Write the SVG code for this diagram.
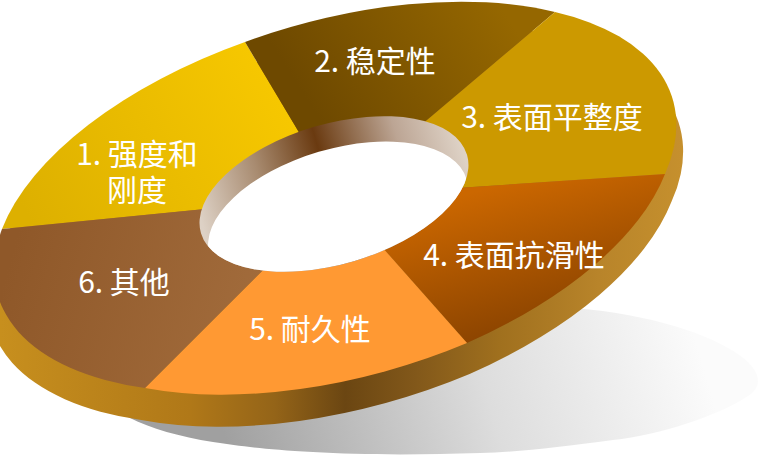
<svg xmlns="http://www.w3.org/2000/svg" xmlns:xlink="http://www.w3.org/1999/xlink" width="760" height="459" viewBox="0 0 760 459">
  <defs>
    <style>
      .lbl { font-family: "Noto Sans CJK SC", "Noto Sans", sans-serif; font-size: 30px; fill: #FFFFFF; text-anchor: middle; }
    </style>
    <path id="outer" d="M2,229 A347.5,175.5 -16.45 0 1 245,42 A347.5,175.5 -16.45 0 1 555,12 A347.5,175.5 -16.45 0 1 665,174 A347.5,175.5 -16.45 0 1 467,343 A347.5,175.5 -16.45 0 1 145,388 A347.5,175.5 -16.45 0 1 2,229 Z"/>
    <ellipse id="rim" cx="334" cy="194" rx="138.7" ry="70" transform="rotate(-16.45 334 194)"/>
    <clipPath id="rimClip"><use xlink:href="#rim"/></clipPath>
    <linearGradient id="gShadow" gradientUnits="userSpaceOnUse" x1="690" y1="320" x2="230" y2="455">
      <stop offset="0" stop-color="#FBFBFB"/>
      <stop offset="0.45" stop-color="#DDDDDD"/>
      <stop offset="1" stop-color="#A0A0A0"/>
    </linearGradient>
    <linearGradient id="gBand" gradientUnits="userSpaceOnUse" x1="0" y1="0" x2="690" y2="0">
      <stop offset="0" stop-color="#C8901E"/>
      <stop offset="0.28" stop-color="#B07818"/>
      <stop offset="0.4" stop-color="#946418"/>
      <stop offset="0.5" stop-color="#6B4612"/>
      <stop offset="0.6" stop-color="#82581A"/>
      <stop offset="0.72" stop-color="#A0701E"/>
      <stop offset="0.86" stop-color="#B8842A"/>
      <stop offset="1" stop-color="#C8922E"/>
    </linearGradient>
    <linearGradient id="g1" gradientUnits="userSpaceOnUse" x1="30" y1="220" x2="280" y2="80">
      <stop offset="0" stop-color="#DDB000"/>
      <stop offset="1" stop-color="#F7C800"/>
    </linearGradient>
    <linearGradient id="g2" gradientUnits="userSpaceOnUse" x1="320" y1="120" x2="500" y2="5">
      <stop offset="0" stop-color="#6E4900"/>
      <stop offset="1" stop-color="#956700"/>
    </linearGradient>
    <linearGradient id="g4" gradientUnits="userSpaceOnUse" x1="500" y1="185" x2="540" y2="330">
      <stop offset="0" stop-color="#CB6700"/>
      <stop offset="1" stop-color="#8A4300"/>
    </linearGradient>
    <linearGradient id="g6" gradientUnits="userSpaceOnUse" x1="10" y1="260" x2="300" y2="340">
      <stop offset="0" stop-color="#8F5829"/>
      <stop offset="1" stop-color="#A56F3F"/>
    </linearGradient>
    <linearGradient id="gWall" gradientUnits="userSpaceOnUse" x1="199" y1="0" x2="470" y2="0">
      <stop offset="0" stop-color="#DDD1C5"/>
      <stop offset="0.25" stop-color="#A88B70"/>
      <stop offset="0.49" stop-color="#6A3A10"/>
      <stop offset="0.56" stop-color="#7E5430"/>
      <stop offset="0.78" stop-color="#BCA594"/>
      <stop offset="1" stop-color="#DED2C6"/>
    </linearGradient>
  </defs>

  <rect width="760" height="459" fill="#FFFFFF"/>

  <g id="shadow">
    <path d="M560,307 C640,312 700,330 735,352 C760,368 765,385 748,396 C720,415 660,435 613,440 C560,447 520,452 480,453 C420,455 360,455 313,452 C260,449 240,446 213,442 C180,437 150,428 130,418 C105,405 100,395 110,385 C200,350 400,310 560,307 Z" fill="url(#gShadow)"/>
  </g>

  <g id="side-band">
    <use xlink:href="#outer" fill="url(#gBand)" transform="translate(337 222) scale(1.02) translate(-337 -194)"/>
  </g>

  <g id="seg1">
    <path d="M337,196 L2,229 A347.5,175.5 -16.45 0 1 245,42 Z" fill="url(#g1)"/>
  </g>
  <g id="seg2">
    <path d="M337,196 L245,42 A347.5,175.5 -16.45 0 1 555,12 Z" fill="url(#g2)"/>
  </g>
  <g id="seg3">
    <path d="M337,196 L555,12 A347.5,175.5 -16.45 0 1 665,174 Z" fill="#CC9900"/>
  </g>
  <g id="seg4">
    <path d="M337,196 L665,174 A347.5,175.5 -16.45 0 1 467,343 Z" fill="url(#g4)"/>
  </g>
  <g id="seg5">
    <path d="M337,196 L467,343 A347.5,175.5 -16.45 0 1 145,388 Z" fill="#FF9933"/>
  </g>
  <g id="seg6">
    <path d="M337,196 L145,388 A347.5,175.5 -16.45 0 1 2,229 Z" fill="url(#g6)"/>
  </g>

  <g id="hole">
    <use xlink:href="#rim" fill="url(#gWall)"/>
    <g clip-path="url(#rimClip)">
      <ellipse cx="338" cy="217" rx="134" ry="68" transform="rotate(-16.45 338 217)" fill="#FFFFFF"/>
    </g>
  </g>

  <g id="labels">
    <text class="lbl" x="137" y="165"><tspan x="137" y="165">1. 强度和</tspan><tspan x="137" y="201">刚度</tspan></text>
    <text class="lbl" x="375" y="72">2. 稳定性</text>
    <text class="lbl" x="552" y="128">3. 表面平整度</text>
    <text class="lbl" x="514" y="266">4. 表面抗滑性</text>
    <text class="lbl" x="310" y="340">5. 耐久性</text>
    <text class="lbl" x="124" y="293">6. 其他</text>
  </g>
</svg>
